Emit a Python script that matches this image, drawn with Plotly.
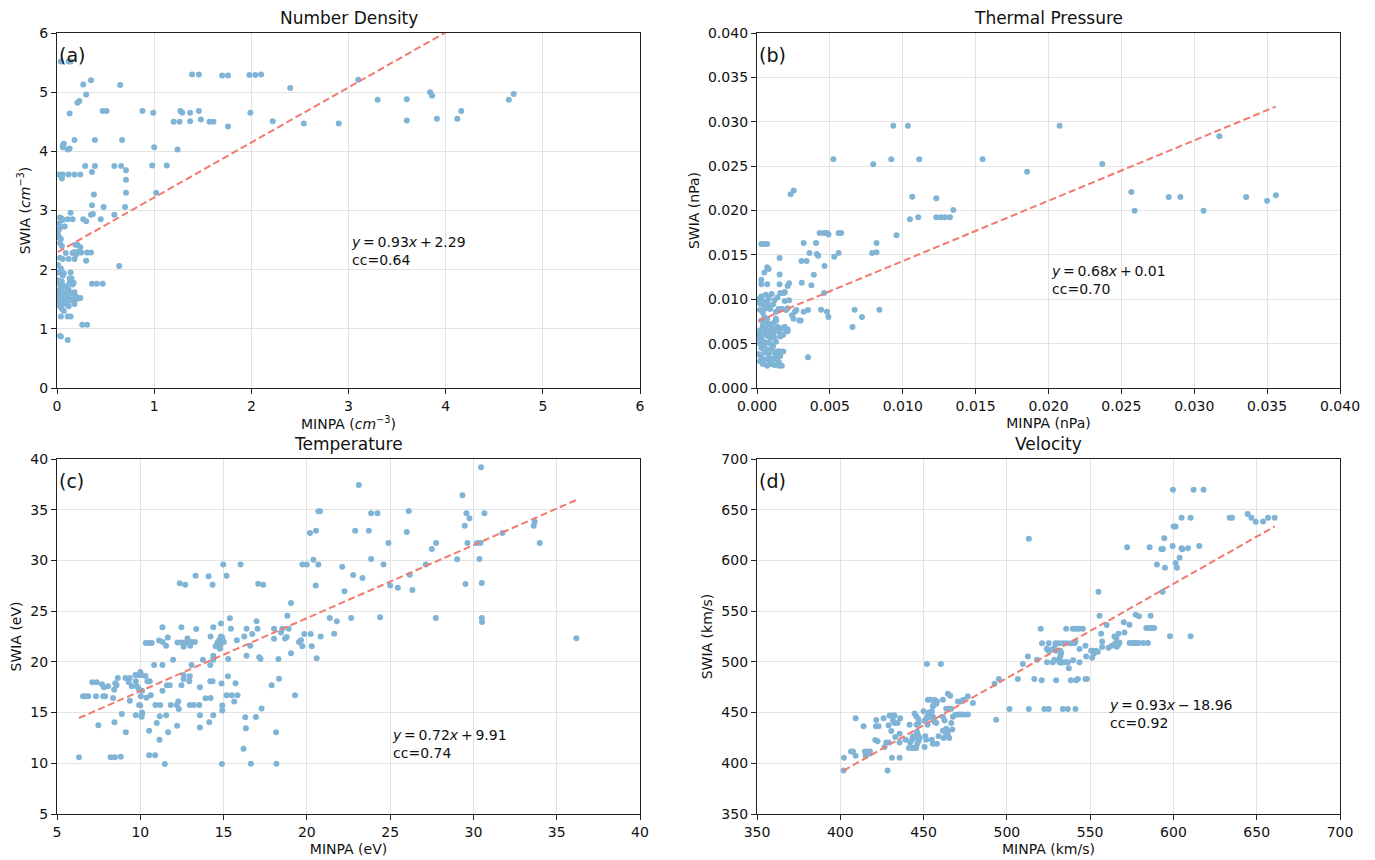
import plotly.graph_objects as go

# ---------------- Panel (a): Number Density ----------------
xa = [0.04,0.12,0.14,0.27,0.35,0.30,0.21,0.23,0.13,0.47,0.51,0.65,
      0.88,0.99,1.0,0.98,1.13,1.02,1.24,
      1.20,1.26,1.27,1.29,1.37,1.37,1.46,1.48,1.57,1.61,1.76,1.39,1.46,1.70,1.76,1.98,2.04,2.10,1.99,2.22,2.40,2.54,2.90,
      3.10,3.30,3.60,3.60,3.84,3.86,3.91,4.12,4.16,4.65,4.70,
      0.02,0.06,0.12,0.18,0.24,0.05,0.36,0.29,0.39,0.39,0.18,0.06,0.07,0.06,0.11,0.13,
      0.38,0.36,0.48,0.35,0.37,0.59,0.45,0.59,0.66,0.71,0.71,0.71,0.70,0.67,0.64,
      0.27,0.30,0.14,0.11,0.16,0.03,0.05,0.06,0.02,0.04,0.08,0.02,
      0.35,0.31,0.30,0.19,0.21,0.24,0.22,0.18,0.16,0.09,0.05,0.03,0.02,0.01,0.04,0.03,0.06,0.12,0.18,0.20,0.25,0.14,0.07,
      0.36,0.41,0.47,
      0.26,0.31,0.04,0.03,0.11,0.04,0.11,0.14,
      0.01,0.02,0.03,0.05,0.06,0.04,0.02,0.01,0.03,0.05,0.02,0.04,0.06,0.03,0.01,0.05,0.08,0.10,0.12,0.09,0.07,0.08,0.10,0.12,0.14,
      0.11,0.09,0.13,0.15,0.13,0.16,0.17,0.18,0.19,0.20,0.22,0.24,0.18,0.16,0.15,0.05,0.07,0.12,0.06,0.02,0.04,0.01,0.03]
ya = [5.52,5.52,5.52,5.13,5.20,4.96,4.82,4.85,4.64,4.68,4.68,5.12,
      4.68,4.65,4.07,3.76,3.76,3.30,4.03,
      4.50,4.50,4.68,4.65,4.65,4.51,4.68,4.54,4.50,4.50,4.42,5.30,5.30,5.28,5.28,5.29,5.29,5.30,4.65,4.51,5.07,4.47,4.47,
      5.21,4.87,4.88,4.52,5.00,4.94,4.55,4.55,4.68,4.87,4.97,
      3.61,3.61,3.61,3.61,3.61,3.54,3.65,3.75,3.75,4.19,4.19,4.10,4.13,4.07,4.03,4.05,
      3.27,3.09,3.06,2.93,2.94,2.93,2.85,3.75,3.75,3.68,3.52,3.30,3.06,4.19,2.06,
      2.85,2.82,2.96,2.85,2.85,2.88,2.86,2.84,2.78,2.72,2.73,2.68,
      2.29,2.29,2.15,2.42,2.42,2.38,2.30,2.30,2.28,2.28,2.40,2.45,2.55,2.60,2.52,2.20,2.18,2.18,2.18,2.26,2.29,1.95,1.94,
      1.76,1.76,1.76,
      1.07,1.07,0.87,0.88,0.81,1.21,1.21,1.21,
      1.82,1.78,1.75,1.80,1.72,1.68,1.65,1.60,1.58,1.55,1.52,1.50,1.48,1.45,1.42,1.40,1.45,1.42,1.38,1.50,1.55,1.62,1.58,1.52,1.48,
      1.68,1.72,1.78,1.85,1.85,1.75,1.78,1.62,1.55,1.50,1.52,1.52,1.42,1.50,1.60,1.34,1.30,1.65,1.90,1.95,2.02,2.08,1.38]
# slope, drawn intercept, printed intercept, cc
fit_a = (0.93, 2.29, "+ 2.29", "0.64")

# ---------------- Panel (b): Thermal Pressure ----------------
xb = [0.0003,0.0005,0.0007,0.00935,0.01035,0.00524,0.00797,0.00921,0.01113,0.01548,
      0.00231,0.00252,0.01065,0.0123,0.01049,0.01106,0.0123,0.0126,0.0129,0.01324,0.01347,0.00957,
      0.0043,0.0046,0.0048,0.0049,0.0056,0.00577,0.0053,0.0056,0.00405,0.0032,0.00305,0.0034,0.0036,0.0041,0.0042,0.0039,0.00463,0.00373,0.00307,
      0.0079,0.0082,0.0082,0.0084,0.0067,0.0072,0.00655,
      0.0046,0.0044,0.0048,0.0049,0.0026,0.0027,0.0032,0.0029,0.0030,0.0035,0.0035,0.0024,0.0025,0.0022,0.0021,0.0022,
      0.00155,0.00155,0.00155,0.0007,0.0008,0.0005,0.0003,0.0003,0.0007,
      0.0017,0.0021,0.0019,0.0017,0.0015,0.0013,0.0018,0.0019,0.0015,0.0015,
      0.01853,0.02076,0.02369,0.02568,0.02591,0.02825,0.02905,0.03064,0.03172,0.03356,0.0350,0.0356,
      0.0002,0.0003,0.0004,0.0005,0.0006,0.0007,0.0008,0.0009,0.0010,0.0011,0.0012,0.0013,0.0014,0.0015,0.0016,0.0017,0.0018,
      0.0003,0.0005,0.0007,0.0009,0.0011,0.0013,0.0004,0.0006,0.0012,0.0008,0.0001,0.0002,0.0010,0.0014,0.0016,
      0.0001,0.0002,0.0003,0.0004,0.0005,0.0006,0.0007,0.0008,0.0009,0.0010,0.0011,0.0012,0.0013,0.0014,0.0015,
      0.0003,0.0005,0.0007,0.0002,0.0009,0.0016,0.0017,0.0020,0.0021,0.0019,0.0018,0.0004,0.0006,0.0011,0.0013,
      0.0001,0.0002,0.0003,0.0004,0.0005,0.0006,0.0007,0.0008,0.0009,0.0010,0.0011,0.0012,0.0013,0.0014,0.0015,0.0016,
      0.0018,0.0019,0.0017,0.0013,0.0020,0.0021,0.0004,0.0006,0.0008,0.0002]
yb = [0.01623,0.01623,0.01623,0.02956,0.02956,0.02577,0.0252,0.02577,0.02577,0.02577,
      0.02183,0.02224,0.02156,0.02137,0.0190,0.01923,0.01923,0.01923,0.01923,0.01923,0.02006,0.0172,
      0.01747,0.01747,0.01747,0.0173,0.01747,0.01747,0.0148,0.0152,0.01634,0.01634,0.0143,0.0143,0.0152,0.0151,0.0149,0.01277,0.01375,0.01157,0.01187,
      0.0152,0.0153,0.01634,0.00883,0.00883,0.0080,0.00687,
      0.0107,0.00883,0.0086,0.0080,0.0086,0.0088,0.0086,0.0076,0.0076,0.0088,0.00346,0.0082,0.0078,0.0099,0.0115,0.0118,
      0.01465,0.0128,0.01168,0.0136,0.0134,0.0130,0.0122,0.01168,0.01168,
      0.0067,0.0066,0.0108,0.0089,0.0089,0.0076,0.0107,0.0098,0.0041,0.0025,
      0.02438,0.02956,0.02524,0.02209,0.01998,0.02152,0.02152,0.01998,0.02836,0.02152,0.02111,0.02171,
      0.0030,0.0035,0.0027,0.0040,0.0032,0.0025,0.0038,0.0029,0.0044,0.0033,0.0026,0.0036,0.0041,0.0029,0.0041,0.0025,0.0041,
      0.0045,0.0048,0.0043,0.0050,0.0047,0.0052,0.0028,0.0051,0.0040,0.0033,0.0038,0.0050,0.0027,0.0031,0.0036,
      0.0060,0.0065,0.0058,0.0070,0.0062,0.0067,0.0059,0.0072,0.0064,0.0068,0.0061,0.0057,0.0066,0.0069,0.0063,
      0.0076,0.0080,0.0078,0.0055,0.0056,0.0058,0.0067,0.0066,0.0064,0.0069,0.0060,0.0053,0.0075,0.0073,0.0078,
      0.0100,0.0095,0.0103,0.0098,0.0092,0.0105,0.0097,0.0101,0.0089,0.0106,0.0094,0.0099,0.0086,0.0102,0.0089,0.0107,
      0.0107,0.0108,0.0089,0.0076,0.0088,0.0090,0.0085,0.0090,0.0093,0.0088]
fit_b = (0.68, 0.0075, "+ 0.01", "0.70")

# ---------------- Panel (c): Temperature ----------------
xc = [6.32,6.56,6.72,6.88,7.12,7.38,7.34,7.48,7.70,7.82,8.07,7.77,7.89,8.43,8.50,8.65,8.57,8.37,8.45,8.22,8.47,8.83,8.89,9.13,
      9.11,9.37,9.31,9.37,9.49,9.71,9.90,9.73,9.80,9.90,9.73,9.93,10.0,10.0,10.07,10.31,10.03,10.08,10.10,10.12,10.11,
      10.43,10.57,10.37,10.63,10.53,10.53,10.89,10.33,10.53,10.69,10.83,10.99,10.91,11.19,11.15,11.17,11.47,11.33,11.13,11.35,
      11.55,11.33,11.33,11.65,11.55,11.67,11.60,11.77,11.83,11.97,12.19,12.21,12.28,12.31,12.23,12.47,12.37,12.70,12.47,12.47,
      12.60,12.60,12.60,12.70,12.83,12.87,13.00,12.97,12.94,13.08,12.97,13.21,13.08,13.28,13.36,13.32,13.58,13.58,13.58,13.54,
      13.76,13.92,14.14,14.10,14.22,14.20,14.22,14.34,14.38,14.38,14.38,14.20,14.34,14.38,14.52,14.64,14.74,14.84,14.78,14.78,
      14.84,14.92,14.88,14.92,14.92,14.98,14.90,15.02,15.18,15.28,15.18,15.26,15.38,15.44,15.50,15.64,15.72,15.80,15.84,16.02,
      16.20,16.24,16.30,16.34,16.38,16.38,16.60,16.64,16.72,16.94,16.98,17.04,17.08,17.14,17.22,17.28,17.38,17.89,18.03,18.03,
      18.15,18.17,18.29,18.33,18.45,18.53,18.69,18.79,18.83,18.91,19.05,19.05,19.29,19.53,19.65,19.73,19.73,19.85,19.99,20.23,
      20.29,20.19,20.39,20.55,20.69,20.79,20.53,20.59,20.69,20.83,
      21.38,21.80,21.64,22.12,22.26,22.66,22.78,22.90,23.12,23.34,23.72,23.86,24.24,23.86,24.40,24.60,24.90,25.00,25.46,26.00,
      26.12,26.18,26.34,27.14,27.50,27.76,27.74,29.02,29.34,29.48,29.52,29.58,29.64,29.76,30.22,30.42,30.36,30.46,30.50,30.50,
      30.52,30.66,31.74,33.62,33.68,33.98,36.18]
yc = [10.59,16.60,16.60,16.60,18.00,18.00,16.60,13.74,17.80,17.50,17.60,16.60,16.60,17.26,17.90,18.40,17.70,16.44,14.04,10.59,10.59,10.65,14.86,13.05,
      18.40,18.40,18.00,16.17,17.60,18.70,18.70,18.08,17.60,17.35,14.73,15.75,15.70,19.00,18.70,18.60,16.60,14.60,15.00,14.90,17.16,
      18.08,18.08,16.47,16.70,13.20,10.78,10.78,21.86,21.86,21.86,19.69,13.97,15.75,15.75,12.33,14.63,9.93,17.16,22.10,21.95,
      21.60,23.40,19.69,22.40,14.73,13.05,17.70,17.70,15.75,20.20,15.75,13.70,16.10,15.35,21.90,21.90,27.74,27.60,23.40,17.70,
      18.70,18.30,21.50,21.86,22.30,21.90,21.60,18.57,18.08,19.69,15.75,15.75,21.96,21.96,23.24,28.50,13.54,14.73,17.50,15.75,
      20.20,16.40,14.04,28.43,16.44,19.69,22.50,27.60,23.40,20.60,20.20,18.08,18.08,14.73,21.55,21.90,22.15,22.50,21.30,21.60,
      23.77,22.40,17.86,15.70,15.20,29.60,9.93,21.96,28.50,20.28,16.70,18.57,24.30,23.27,16.70,16.10,17.90,22.12,16.70,29.60,
      11.44,22.50,14.53,13.45,23.27,20.60,21.60,9.96,22.75,14.56,24.00,23.27,27.70,20.45,20.28,15.40,27.60,17.70,23.27,22.28,
      13.05,9.96,20.28,18.34,22.90,23.27,22.30,22.45,24.55,23.27,25.80,20.84,16.70,21.96,22.12,21.55,29.60,22.75,29.60,22.75,
      21.55,32.70,30.07,32.93,34.84,34.84,27.54,20.35,29.60,22.50,
      24.32,24.00,22.78,29.38,26.95,24.32,28.56,32.93,37.43,28.27,32.93,34.64,34.64,30.14,24.39,29.61,31.71,27.54,27.31,32.80,
      34.87,28.60,27.08,29.61,31.13,31.72,24.32,30.11,36.42,33.43,27.68,34.64,31.72,34.15,31.72,31.72,30.14,39.18,27.77,24.32,
      23.93,34.64,32.70,33.43,33.82,31.72,22.32]
fit_c = (0.72, 9.91, "+ 9.91", "0.74")

# ---------------- Panel (d): Velocity ----------------
xd = [402.2,402.0,406.4,407.6,409.2,409.2,414.0,414.8,416.2,417.8,415.2,417.4,421.0,422.4,421.4,423.0,421.6,426.0,426.6,427.6,
      429.2,428.4,429.0,429.6,431.6,432.6,430.6,431.0,431.6,432.6,433.0,434.4,435.6,435.6,435.6,436.0,439.2,441.2,443.0,444.2,
      441.6,442.0,443.0,443.6,444.2,444.6,445.6,446.8,445.8,447.0,446.0,446.6,447.6,447.0,446.2,445.6,450.0,450.6,451.6,452.2,
      450.6,451.6,451.0,452.0,452.6,454.0,453.0,454.0,455.0,453.0,454.0,452.4,455.6,456.2,456.6,458.0,457.6,455.6,456.6,457.6,
      455.0,455.6,458.0,459.0,460.4,461.6,461.6,462.6,461.6,462.6,463.6,464.6,463.6,462.0,463.4,464.6,465.4,463.6,465.2,466.6,
      464.6,466.0,466.6,467.2,467.6,469.0,470.6,472.2,474.0,476.6,470.6,472.2,474.0,476.6,479.6,492.6,495.2,493.6,501.6,506.6,
      509.6,512.6,513.2,513.2,
      516.5,518.1,520.3,520.9,521.1,525.1,529.2,531.2,533.6,535.6,538.2,540.6,522.5,525.1,524.1,527.6,528.6,
      524.0,525.0,527.0,528.6,529.4,529.6,532.0,532.6,532.2,531.6,531.6,532.6,533.6,535.2,536.6,533.6,536.6,541.2,
      535.6,539.6,541.0,542.2,543.6,545.6,537.2,538.4,541.6,542.6,547.2,548.0,539.8,541.2,543.6,543.6,547.2,547.6,
      550.6,551.6,552.6,553.6,554.6,552.2,551.2,555.0,555.6,556.6,557.2,557.2,559.9,561.0,563.0,565.0,566.0,567.0,567.6,
      564.6,565.6,567.0,570.2,570.6,572.2,573.6,573.6,575.6,576.6,577.6,579.2,582.0,584.7,577.3,579.3,
      583.7,585.3,586.8,588.4,585.7,586.3,590.1,592.7,593.7,593.5,594.5,594.9,597.9,599.5,599.7,600.1,601.3,601.3,602.1,603.7,
      604.9,610.3,604.9,605.3,608.7,610.3,612.1,618.1,615.5,633.8,635.2,644.6,646.8,649.4,653.8,656.8,660.8]
yd = [405.5,393.0,411.5,411.5,407.5,444.3,436.4,411.5,411.5,411.5,407.5,409.5,423.0,421.8,436.4,436.4,442.7,444.3,416.0,420.6,
      420.6,393.0,437.4,447.0,447.0,447.0,431.8,405.5,442.3,439.7,425.9,439.7,429.2,420.6,405.5,444.3,423.3,415.0,415.0,415.0,
      438.0,420.6,423.3,426.6,424.9,449.0,446.3,443.7,438.0,439.7,431.0,428.0,425.0,422.0,419.0,415.0,451.3,442.0,444.0,446.0,
      416.0,423.3,426.6,497.9,462.7,462.7,449.6,450.5,451.0,445.6,445.6,438.0,456.2,457.8,462.7,461.0,458.8,446.0,441.0,439.7,
      423.3,419.3,419.3,426.6,497.9,462.7,446.0,442.3,432.0,432.0,432.0,432.0,434.0,425.0,427.0,428.0,425.0,453.8,453.8,453.8,
      468.6,466.7,439.7,433.2,446.0,447.5,448.0,448.0,448.0,448.0,461.0,461.0,462.7,466.0,459.4,478.5,483.0,443.0,453.5,483.0,
      497.9,505.4,621.4,453.5,
      483.0,502.2,532.7,481.8,518.3,518.3,518.3,518.3,518.3,518.3,518.3,518.3,453.5,453.5,499.5,499.5,502.2,
      513.0,511.0,512.0,514.0,511.0,481.8,511.0,509.0,506.0,503.0,499.5,499.0,499.5,499.5,499.5,453.5,453.5,453.5,
      532.7,532.7,532.7,532.7,532.7,532.7,493.6,481.8,481.8,483.0,483.0,483.0,501.5,520.0,499.5,512.6,515.9,505.4,
      511.0,511.0,510.0,511.0,510.0,508.0,504.0,569.2,545.5,527.6,520.0,514.6,536.3,514.0,516.0,518.0,515.0,517.0,519.0,
      525.0,523.5,527.8,539.0,529.0,612.9,536.6,518.7,518.7,518.7,518.7,518.7,518.7,518.7,546.4,545.0,
      533.4,533.4,533.4,533.4,612.9,545.5,596.1,611.3,611.3,569.2,621.8,592.8,525.3,614.3,669.7,633.5,633.5,597.4,592.8,602.6,
      642.2,642.2,612.0,611.0,612.0,525.3,669.7,669.7,614.3,642.2,642.2,645.8,642.2,638.2,638.5,642.2,642.2]
fit_d = (0.93, 18.96, "− 18.96", "0.92")

titles = ["Number Density", "Thermal Pressure", "Temperature", "Velocity"]
letters = ["(a)", "(b)", "(c)", "(d)"]
xtitles = ["MINPA (<i>cm</i><sup>−3</sup>)", "MINPA (nPa)", "MINPA (eV)", "MINPA (km/s)"]
ytitles = ["SWIA (<i>cm</i><sup>−3</sup>)", "SWIA (nPa)", "SWIA (eV)", "SWIA (km/s)"]
ranges = [(0, 6), (0, 0.04), (5, 40), (350, 700)]
dticks = [1, 0.005, 5, 50]
tickfmts = ["d", ".3f", "d", "d"]
text_pos = [(3, 2.0), (0.02, 0.01), (25, 10), (560, 430)]

panels = [(xa, ya, fit_a), (xb, yb, fit_b), (xc, yc, fit_c), (xd, yd, fit_d)]

W, H = 1375, 860
OFF = 8  # page body margin in the browser
L1, R1, L2, R2 = 57 - OFF, 640 - OFF, 757 - OFF, 1340 - OFF
T1, B1, T2, B2 = 33 - OFF, 388 - OFF, 459 - OFF, 814 - OFF
xdoms = [(L1 / W, R1 / W), (L2 / W, R2 / W), (L1 / W, R1 / W), (L2 / W, R2 / W)]
ydoms = [(1 - B1 / H, 1 - T1 / H), (1 - B1 / H, 1 - T1 / H), (1 - B2 / H, 1 - T2 / H), (1 - B2 / H, 1 - T2 / H)]

PT = "#80b4d6"
LN = "#f27a6e"
FONT = "DejaVu Sans"
TS = "\u2009"  # thin space for math-like spacing

fig = go.Figure()
annotations = []
layout = {}
for i, (xs, ys, (m, b, btxt, cc)) in enumerate(panels):
    n = "" if i == 0 else str(i + 1)
    xr, yr = "x" + n, "y" + n
    fig.add_trace(go.Scatter(x=xs, y=ys, mode="markers", xaxis=xr, yaxis=yr,
                             marker=dict(color=PT, size=6, line=dict(width=0)), showlegend=False))
    x0, x1 = min(xs), max(xs)
    fig.add_trace(go.Scatter(x=[x0, x1], y=[m * x0 + b, m * x1 + b], mode="lines", xaxis=xr, yaxis=yr,
                             line=dict(color=LN, width=2, dash="7px,3.5px"), showlegend=False))
    common = dict(showline=True, linecolor="#222", linewidth=1.3, mirror=True, ticks="outside",
                  ticklen=5, tickwidth=1.2, tickcolor="#222", showgrid=True, gridcolor="#e3e3e3",
                  gridwidth=1, zeroline=False, automargin=False,
                  tickfont=dict(family=FONT, size=14, color="#111"))
    layout["xaxis" + n] = dict(common, domain=xdoms[i], range=list(ranges[i]), dtick=dticks[i],
                               tick0=ranges[i][0], tickformat=tickfmts[i], anchor=yr,
                               title=dict(text=xtitles[i], font=dict(family=FONT, size=14, color="#111"), standoff=5))
    layout["yaxis" + n] = dict(common, domain=ydoms[i], range=list(ranges[i]), dtick=dticks[i],
                               tick0=ranges[i][0], tickformat=tickfmts[i], anchor=xr,
                               title=dict(text=ytitles[i], font=dict(family=FONT, size=14, color="#111"), standoff=5))
    annotations.append(dict(text=titles[i], xref=xr + " domain", yref=yr + " domain", x=0.5, y=1,
                            xanchor="center", yanchor="bottom", yshift=3, showarrow=False,
                            font=dict(family=FONT, size=17, color="#111")))
    annotations.append(dict(text=letters[i], xref=xr + " domain", yref=yr + " domain", x=0.0, y=1,
                            xanchor="left", yanchor="top", xshift=0, yshift=-9, showarrow=False,
                            font=dict(family=FONT, size=19, color="#111")))
    sgn, num = btxt.split(" ")
    eq = f"<i>y</i>{TS}={TS}{m:.2f}<i>x</i>{TS}{sgn}{TS}{num}<br>cc=0{cc[1:]}"
    annotations.append(dict(text=eq, xref=xr, yref=yr, x=text_pos[i][0], y=text_pos[i][1],
                            xanchor="left", yanchor="bottom", align="left", showarrow=False,
                            font=dict(family=FONT, size=14, color="#111")))

fig.update_layout(**layout)
fig.update_layout(width=W, height=H, margin=dict(l=0, r=0, t=0, b=0), plot_bgcolor="white",
                  paper_bgcolor="white", annotations=annotations, font=dict(family=FONT))
fig.write_html("out.html")
